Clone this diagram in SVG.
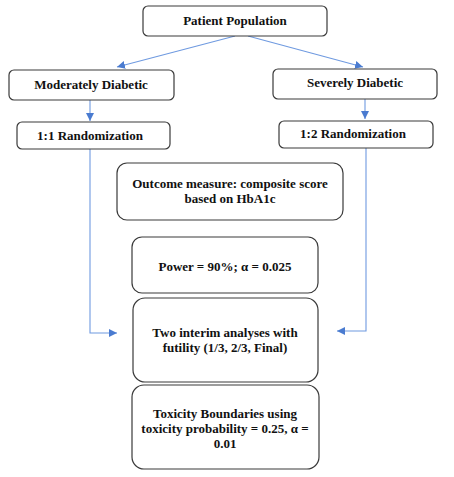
<svg xmlns="http://www.w3.org/2000/svg" width="454" height="477" viewBox="0 0 454 477">
<style>
.box{fill:#fff;stroke:#3a3a3a;stroke-width:1.2}
.t{font-family:"Liberation Serif","Times New Roman",serif;font-weight:bold;font-size:13px;fill:#111;text-anchor:middle}
.c{fill:none;stroke:#6f9ae0;stroke-width:1.1}
</style>
<defs>
<marker id="ah" viewBox="0 0 10 10" refX="10" refY="5" markerWidth="8" markerHeight="8" markerUnits="userSpaceOnUse" orient="auto">
<path d="M0,0 L10,5 L0,10 z" fill="#4a7bd0"/>
</marker>
</defs>
<rect width="454" height="477" fill="#fff"/>
<g id="connectors">
<path class="c" d="M235,36 L117,67" marker-end="url(#ah)"/>
<path class="c" d="M248,36 L363,67" marker-end="url(#ah)"/>
<path class="c" d="M90,100 L90,121" marker-end="url(#ah)"/>
<path class="c" d="M365,99 L365,119" marker-end="url(#ah)"/>
<path class="c" d="M90,149 L90,333 L117,333" marker-end="url(#ah)"/>
<path class="c" d="M366,148 L366,331 L337,331" marker-end="url(#ah)"/>
</g>
<g id="patient">
<rect class="box" x="143" y="6" width="184" height="30" rx="5"/>
<text class="t" x="235" y="25">Patient Population</text>
</g>
<g id="moderate">
<rect class="box" x="9" y="70" width="165" height="30" rx="5"/>
<text class="t" x="91" y="89">Moderately Diabetic</text>
</g>
<g id="severe">
<rect class="box" x="273" y="69" width="164" height="30" rx="5"/>
<text class="t" x="355" y="87">Severely Diabetic</text>
</g>
<g id="rand11">
<rect class="box" x="17" y="122" width="153" height="27" rx="5"/>
<text class="t" x="90" y="140">1:1 Randomization</text>
</g>
<g id="rand12">
<rect class="box" x="279" y="121" width="154" height="27" rx="5"/>
<text class="t" x="353" y="138">1:2 Randomization</text>
</g>
<g id="outcome">
<rect class="box" x="117" y="163" width="226" height="57" rx="10"/>
<text class="t" x="230" y="188">Outcome measure: composite score</text>
<text class="t" x="230" y="203">based on HbA1c</text>
</g>
<g id="power">
<rect class="box" x="132" y="237" width="186" height="56" rx="10"/>
<text class="t" x="225" y="271">Power = 90%; α = 0.025</text>
</g>
<g id="interim">
<rect class="box" x="133" y="298" width="185" height="84" rx="12"/>
<text class="t" x="225" y="337">Two interim analyses with</text>
<text class="t" x="225" y="352">futility (1/3, 2/3, Final)</text>
</g>
<g id="toxicity">
<rect class="box" x="132" y="385" width="187" height="84" rx="12"/>
<text class="t" x="225" y="418">Toxicity Boundaries using</text>
<text class="t" x="225" y="433">toxicity probability = 0.25, α =</text>
<text class="t" x="225" y="448">0.01</text>
</g>
</svg>
